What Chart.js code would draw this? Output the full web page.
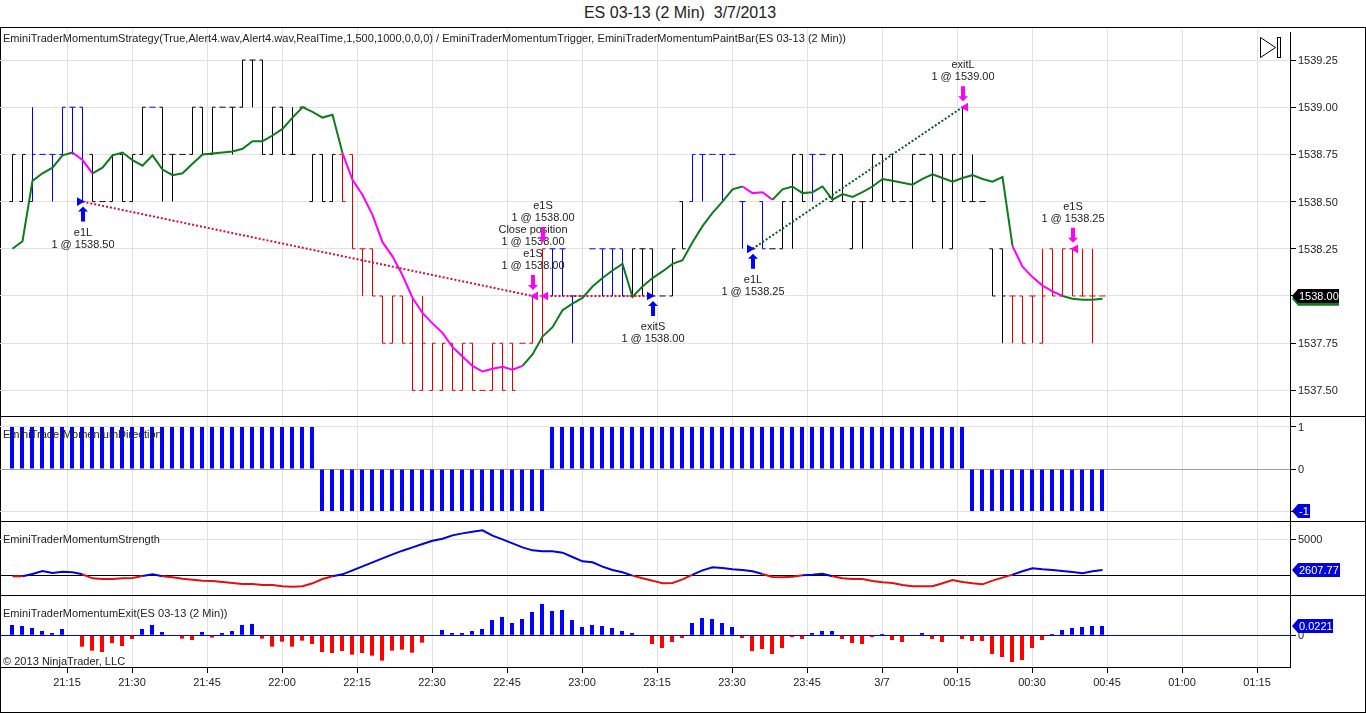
<!DOCTYPE html>
<html>
<head>
<meta charset="utf-8">
<title>ES 03-13 (2 Min)</title>
<script src="https://cdn.jsdelivr.net/npm/chart.js@4/dist/chart.umd.min.js"></script>
<style>
  html, body { margin:0; padding:0; background:#fff; overflow:hidden; }
  body { width:1366px; height:713px; position:relative; font:11px "Liberation Sans", Arial, sans-serif; color:#222; }
  canvas { position:absolute; left:0; }
  .frame { position:absolute; left:0; top:27px; width:1366px; height:686px; box-sizing:border-box; border:1px solid #000; }
  .rule { position:absolute; left:0; width:1366px; height:1px; background:#000; }
  .axisgap { position:absolute; left:1290px; top:28px; width:1px; height:4px; background:#fff; }
  .cap { position:absolute; left:3px; white-space:pre; line-height:13px; letter-spacing:.03px; }
  .title { position:absolute; left:0; width:1360px; top:4px; text-align:center; font-size:16px; line-height:18px; white-space:pre; }
</style>
</head>
<body>
<div class="frame"></div>
<canvas id="price" width="1366" height="388" style="top:28px"></canvas>
<canvas id="direction" width="1366" height="104" style="top:417px"></canvas>
<canvas id="strength" width="1366" height="73" style="top:522px"></canvas>
<canvas id="exit" width="1366" height="116" style="top:596px"></canvas>
<div class="axisgap"></div>
<div class="rule" style="top:416px"></div>
<div class="rule" style="top:521px"></div>
<div class="rule" style="top:595px"></div>
<div class="title">ES 03-13 (2 Min)  3/7/2013</div>
<div class="cap" style="top:32px">EminiTraderMomentumStrategy(True,Alert4.wav,Alert4.wav,RealTime,1,500,1000,0,0,0) / EminiTraderMomentumTrigger, EminiTraderMomentumPaintBar(ES 03-13 (2 Min))</div>
<div class="cap" style="top:428px">EminiTraderMomentumDirection</div>
<div class="cap" style="top:533px">EminiTraderMomentumStrength</div>
<div class="cap" style="top:607px">EminiTraderMomentumExit(ES 03-13 (2 Min))</div>
<div class="cap" style="top:655px">© 2013 NinjaTrader, LLC</div>
<script>
/* x axis is in bar numbers, one bar every 2 minutes */
const tickPositions = [5.5,12,19.5,27,34.5,42,49.5,57,64.5,72,79.5,87,94.5,102,109.5,117,124.5];
const tickLabels = ['21:15','21:30','21:45','22:00','22:15','22:30','22:45','23:00','23:15','23:30','23:45','3/7','00:15','00:30','00:45','01:00','01:15'];
const priceTicks = [1537.5,1537.75,1538,1538.25,1538.5,1538.75,1539,1539.25];

const barOpen = [
  1538.5,1538.5,1538.5,1538.75,1538.75,1538.75,1539,1539,1538.75,1538.5,
  1538.5,1538.75,1538.5,1538.75,1539,1539,1538.75,1538.75,1538.75,1539,
  1538.75,1539,1539,1539,1539.25,1539.25,1538.75,1539,1538.75,1539,
  1538.5,1538.75,1538.5,1538.75,1538.75,1538.25,1538.25,1538,1537.75,1538,
  1537.75,1537.5,1537.5,1537.5,1537.75,1537.5,1537.75,1537.5,1537.5,1537.75,
  1537.75,1537.75,1537.75,1538,1538.25,1538.25,1538,1538,1538.25,1538.25,
  1538.25,1538.25,1538,1538.25,1538.25,1538,1538,1538.5,1538.5,1538.75,
  1538.75,1538.75,1538.75,1538.5,1538.25,1538.5,1538.25,1538.25,1538.5,1538.75,
  1538.75,1538.75,1538.5,1538.75,1538.25,1538.5,1538.5,1538.75,1538.75,1538.5,
  1538.5,1538.75,1538.75,1538.75,1538.25,1538.75,1538.5,1538.5,1538.25,1538.25,
  1538,1538,1538,1537.75,1538.25,1538,1538.25,1538,1538,1538];
const barHigh = [
  1538.75,1538.75,1539,1538.75,1538.75,1539,1539,1539,1538.75,1538.5,
  1538.75,1538.75,1538.75,1539,1539,1539,1538.75,1538.75,1539,1539,
  1539,1539,1539,1539.25,1539.25,1539.25,1539,1539,1539,1539,
  1538.75,1538.75,1538.75,1538.75,1538.75,1538.25,1538.25,1538,1538,1538,
  1538,1538,1537.75,1537.75,1537.75,1537.75,1537.75,1537.5,1537.75,1537.75,
  1537.75,1537.75,1538,1538.25,1538.25,1538.25,1538,1538,1538.25,1538.25,
  1538.25,1538.25,1538.25,1538.25,1538.25,1538,1538.25,1538.5,1538.75,1538.75,
  1538.75,1538.75,1538.75,1538.5,1538.25,1538.5,1538.25,1538.5,1538.75,1538.75,
  1538.75,1538.75,1538.75,1538.75,1538.5,1538.5,1538.75,1538.75,1538.75,1538.5,
  1538.75,1538.75,1538.75,1538.75,1538.75,1539,1538.75,1538.5,1538.25,1538.25,
  1538,1538,1538,1538.25,1538.25,1538.25,1538.25,1538.25,1538.25,1538];
const barLow = [
  1538.5,1538.5,1538.5,1538.75,1538.5,1538.75,1538.75,1538.5,1538.5,1538.5,
  1538.5,1538.5,1538.5,1538.75,1539,1538.5,1538.5,1538.75,1538.75,1538.75,
  1538.75,1539,1538.75,1539,1539,1538.75,1538.75,1538.75,1538.75,1539,
  1538.5,1538.5,1538.5,1538.5,1538.25,1538,1538,1537.75,1537.75,1537.75,
  1537.5,1537.5,1537.5,1537.5,1537.5,1537.5,1537.5,1537.5,1537.5,1537.5,
  1537.5,1537.75,1537.75,1537.75,1538,1538,1537.75,1538,1538.25,1538,
  1538,1538,1538,1538,1538,1538,1538,1538.25,1538.5,1538.5,
  1538.75,1538.5,1538.75,1538.25,1538.25,1538.25,1538.25,1538.25,1538.25,1538.5,
  1538.5,1538.75,1538.5,1538.5,1538.25,1538.25,1538.5,1538.5,1538.5,1538.5,
  1538.25,1538.75,1538.5,1538.25,1538.25,1538.5,1538.5,1538.5,1538,1537.75,
  1537.75,1537.75,1537.75,1537.75,1538,1538,1538,1538,1537.75,1538];
const barClose = [
  1538.75,1538.75,1538.75,1538.75,1538.75,1539,1539,1538.5,1538.5,1538.5,
  1538.75,1538.5,1538.75,1539,1539,1538.75,1538.75,1538.75,1539,1538.75,
  1539,1539,1539,1539.25,1539.25,1538.75,1539,1538.75,1538.75,1539,
  1538.75,1538.5,1538.75,1538.5,1538.25,1538.25,1538,1537.75,1538,1537.75,
  1537.5,1537.75,1537.75,1537.75,1537.5,1537.75,1537.5,1537.5,1537.75,1537.5,
  1537.5,1537.75,1538,1538.25,1538.25,1538.25,1538,1538,1538.25,1538.25,
  1538.25,1538,1538.25,1538.25,1538,1538,1538.25,1538.25,1538.75,1538.75,
  1538.75,1538.75,1538.75,1538.5,1538.25,1538.25,1538.25,1538.5,1538.75,1538.5,
  1538.75,1538.75,1538.75,1538.5,1538.5,1538.5,1538.75,1538.5,1538.5,1538.5,
  1538.75,1538.75,1538.5,1538.5,1538.75,1538.5,1538.5,1538.5,1538,1538,
  1538,1537.75,1538,1538,1538,1538.25,1538,1538,1538,1538];
/* 0 plain, 1 up paint, -1 down paint */
const barPaint = [
  0,0,1,1,1,1,1,1,0,0, 0,0,0,0,1,0,0,0,0,0, 0,0,0,0,0,0,0,0,0,0,
  0,0,0,-1,-1,-1,-1,-1,-1,-1, -1,-1,-1,-1,-1,-1,-1,-1,-1,-1, -1,-1,-1,-1,1,1,1,1,1,1,
  1,1,0,0,0,0,0,0,1,1, 1,1,1,1,1,1,0,0,0,0, 1,1,0,0,0,0,0,0,0,0,
  0,0,0,0,0,0,0,0,0,0, -1,-1,-1,-1,-1,-1,-1,-1,-1,-1];

const trendValues = [
  1538.25,1538.29,1538.61,1538.65,1538.68,1538.745,1538.76,1538.72,1538.65,1538.68,
  1538.745,1538.76,1538.72,1538.69,1538.745,1538.67,1538.64,1538.65,1538.7,1538.75,
  1538.755,1538.76,1538.765,1538.78,1538.82,1538.82,1538.85,1538.885,1538.945,1539,
  1538.975,1538.945,1538.96,1538.757,1538.615,1538.535,1538.43,1538.285,1538.21,1538.11,
  1537.99,1537.91,1537.855,1537.805,1537.73,1537.68,1537.63,1537.6,1537.615,1537.625,
  1537.61,1537.63,1537.69,1537.785,1537.835,1537.925,1537.96,1537.99,1538.05,1538.095,
  1538.135,1538.17,1537.995,1538.05,1538.095,1538.13,1538.17,1538.19,1538.285,1538.37,
  1538.44,1538.5,1538.565,1538.58,1538.545,1538.55,1538.51,1538.565,1538.58,1538.545,
  1538.55,1538.58,1538.51,1538.54,1538.525,1538.55,1538.58,1538.62,1538.61,1538.6,
  1538.59,1538.62,1538.645,1538.625,1538.605,1538.625,1538.64,1538.62,1538.605,1538.63,
  1538.265,1538.155,1538.1,1538.055,1538.025,1538,1537.985,1537.98,1537.98,1537.985];
const trendFallRanges = [[6,8],[33,51],[73,76],[100,105]];

const tradeBars = [7,52,52,53,64,74,95,106];
const tradePrices = [1538.5,1538,1538,1538,1538,1538.25,1539,1538.25];
const tradeNames = ['e1L','Close position','e1S','e1S','exitS','e1L','exitL','e1S'];
const tradeBuys = [true,false,false,false,true,true,false,false];
const closedLineBars = [[7,52],[53,64],[74,95]];
const closedLinePrices = [[1538.5,1538],[1538,1538],[1538.25,1539]];

const directionValues = [
  1,1,1,1,1,1,1,1,1,1, 1,1,1,1,1,1,1,1,1,1, 1,1,1,1,1,1,1,1,1,1, 1,
  -1,-1,-1,-1,-1,-1,-1,-1,-1, -1,-1,-1,-1,-1,-1,-1,-1,-1,-1, -1,-1,-1,-1,
  1,1,1,1,1,1, 1,1,1,1,1,1,1,1,1,1, 1,1,1,1,1,1,1,1,1,1, 1,1,1,1,1,1,1,1,1,1, 1,1,1,1,1,1,
  -1,-1,-1,-1, -1,-1,-1,-1,-1,-1,-1,-1,-1,-1];
const directionTicks = [-1,0,1];

const strengthValues = [
  2112,2112,2294,2528,2372,2476,2424,2268,1956,1904,
  1904,1956,1982,2138,2268,2112,2034,1930,1852,1774,
  1748,1670,1592,1514,1514,1436,1436,1332,1306,1332,
  1566,1904,2112,2268,2580,2892,3204,3516,3828,4114,
  4374,4634,4894,5050,5310,5466,5596,5700,5284,4998,
  4686,4374,4140,4062,4062,3958,3620,3282,3204,2866,
  2606,2424,2164,1956,1774,1566,1592,1878,2242,2580,
  2814,2762,2658,2606,2502,2294,2060,2034,2086,2190,
  2242,2320,2112,1956,1904,1904,1748,1644,1592,1436,
  1332,1332,1332,1566,1826,1670,1566,1488,1774,2008,
  2242,2502,2736,2658,2606,2528,2450,2346,2502,2607.77];
const strengthLevel = 2190;
const strengthTicks = [2190,5000];

const exitValues = [
  .0245,.0221,.0174,.0103,.0055,.015,0,-.0269,-.0363,-.0395,
  -.0182,-.0253,-.0087,.015,.0245,.0079,0,-.0079,-.0111,.0079,
  -.0055,.0055,.0103,.0245,.0269,-.0079,-.0269,-.015,-.0269,-.0126,
  -.0205,-.0395,-.0419,-.0371,-.0458,-.0419,-.0482,-.06,-.0363,-.034,
  -.0411,-.0174,0,.0126,.0055,.0055,.0103,.015,.0363,.0435,
  .0292,.0387,.0553,.0743,.0577,.06,.0363,.0198,.0245,.0221,
  .0174,.0103,.0055,0,-.0205,-.03,-.0158,-.0063,.0292,.0411,
  .0387,.0292,.0198,-.0063,-.0371,-.0324,-.0442,-.03,-.004,-.0087,
  .0055,.0103,.0103,-.0087,-.0182,-.0205,-.004,.0032,-.0111,-.0158,
  0,.0055,-.0087,-.0158,0,-.0087,-.0134,-.0134,-.0442,-.0514,
  -.0632,-.0585,-.03,-.0111,.0032,.0126,.0174,.0198,.0221,.0221];
const exitTicks = [0];

const gridColor = '#e2e2e2';
const paintColors = { '0':'#000000', '1':'#0000d8', '-1':'#dd0000' };
const greenLine = '#0f7a1e', magenta = '#ff00ff', blue = '#0000ff', red = '#ff0000';
const lastBar = barClose.length - 1;

Chart.defaults.font.family = '"Liberation Sans", Arial, sans-serif';
Chart.defaults.font.size = 11;
Chart.defaults.color = '#222';
Chart.defaults.animation = false;
Chart.defaults.events = [];

const xScale = (showLabels, shift) => ({
  type:'linear', min:-1.25 + shift, max:127.75 + shift, offset:false,
  grid:{ color:gridColor, offset:false, drawTicks:showLabels, tickLength:6, tickColor:'#000' },
  border:{ display:showLabels, color:'#000' },
  ticks:{ display:showLabels, autoSkip:false, maxRotation:0, padding:3, callback:(v, i) => tickLabels[i] },
  afterBuildTicks: s => { s.ticks = tickPositions.map(v => ({ value:v })); },
  afterFit: s => { s.height = showLabels ? 45 : 0; s.paddingLeft = 0; s.paddingRight = 0; }
});

const yScale = (min, max, ticks, label, lineColor) => ({
  position:'right', min, max,
  grid:{ color:c => lineColor(c.tick.value), tickLength:6, tickColor:c => label(c.tick.value) === '' ? 'transparent' : '#000' },
  border:{ color:'#000' },
  ticks:{ padding:2, labelOffset:1, autoSkip:false, callback:v => label(v) },
  afterBuildTicks: s => { s.ticks = ticks.map(v => ({ value:v })); },
  // no room kept for half a label, the plot has to fill its canvas
  afterFit: s => { s.width = 76; s.paddingTop = 0; s.paddingBottom = 0; }
});
const layout = { padding:0, autoPadding:false };

// little pentagon on the axis showing the last value
const drawFlag = (chart, axis, value, color, text, width) => {
  const c = chart.ctx, y = chart.scales[axis].getPixelForValue(value), x = chart.chartArea.right + 2;
  c.save();
  c.beginPath();
  c.moveTo(x, y);
  c.lineTo(x + 6, y - 7); c.lineTo(x + width, y - 7); c.lineTo(x + width, y + 7); c.lineTo(x + 6, y + 7);
  c.closePath();
  c.fillStyle = color; c.fill();
  c.fillStyle = '#fff';
  c.font = '11px "Liberation Sans", Arial, sans-serif';
  c.textBaseline = 'middle'; c.textAlign = 'left';
  if (text) c.fillText(text, x + 7, y + 0.5);
  c.restore();
};
const flagPlugin = (axis, flags) => ({
  id:'flags',
  afterDraw(chart) { flags().forEach(f => drawFlag(chart, axis, f.value, f.color, f.text, f.width)); }
});

const drawArrow = (c, x, top, height, up, color) => {
  const tip = up ? top : top + height, dir = up ? 1 : -1, end = up ? top + height : top;
  c.fillStyle = color;
  c.beginPath();
  c.moveTo(x, tip);
  c.lineTo(x + 5, tip + dir * 5); c.lineTo(x + 2, tip + dir * 5); c.lineTo(x + 2, end);
  c.lineTo(x - 2, end); c.lineTo(x - 2, tip + dir * 5); c.lineTo(x - 5, tip + dir * 5);
  c.closePath(); c.fill();
};

// arrow and text of each order, the stacked ones are lifted
const labelLift = [0,24,0,48,0,0,0,0];
const arrowLift = [0,0,0,48,0,0,0,0];
const tradePlugin = {
  id:'trades',
  afterDatasetsDraw(chart) {
    const c = chart.ctx, xs = chart.scales.x, ys = chart.scales.y;
    c.save();
    c.font = '11px "Liberation Sans", Arial, sans-serif';
    c.textAlign = 'center'; c.textBaseline = 'middle';
    tradeBars.forEach((bar, i) => {
      const x = Math.round(xs.getPixelForValue(bar)), y = ys.getPixelForValue(tradePrices[i]);
      const text = '1 @ ' + tradePrices[i].toFixed(2);
      if (tradeBuys[i]) {
        drawArrow(c, x, y + 5, 15, true, blue);
        c.fillStyle = '#222';
        c.fillText(tradeNames[i], x, y + 31);
        c.fillText(text, x, y + 43);
      } else {
        if (tradeNames[i] !== 'Close position') drawArrow(c, x, y - 21 - arrowLift[i], 15, false, magenta);
        c.fillStyle = '#222';
        c.fillText(tradeNames[i], x, y - 42 - labelLift[i]);
        c.fillText(text, x, y - 30 - labelLift[i]);
      }
    });
    // chart trader icon, top right
    c.strokeStyle = '#000'; c.lineWidth = 1;
    c.strokeRect(1277.5, 9.5, 3, 20);
    c.beginPath(); c.moveTo(1260.5, 9.5); c.lineTo(1275.5, 19.5); c.lineTo(1260.5, 29.5); c.closePath(); c.stroke();
    c.restore();
  }
};

const points = (ys) => ys.map((y, i) => ({ x:i, y }));
const tickDataset = (values, rotation) => ({
  type:'line', data:points(values), showLine:false, order:3,
  pointStyle:'dash', pointRadius:3, pointRotation:rotation, pointBorderWidth:1,
  pointBorderColor:c => paintColors[barPaint[c.dataIndex]], pointBackgroundColor:'transparent'
});
const tradeMarks = (buy) => ({
  type:'line', showLine:false, order:0, pointStyle:'triangle', pointRadius:5,
  pointRotation:buy ? 90 : -90, pointBorderWidth:0,
  pointBackgroundColor:buy ? blue : magenta,
  data:tradeBars.map((b, i) => ({ x:b + (buy ? -0.3 : 0.3), y:tradeBuys[i] === buy ? tradePrices[i] : null }))
});
const closedLine = (i, color) => ({
  type:'line', order:1, borderColor:color, borderWidth:2, borderDash:[2,2], pointRadius:0, tension:0,
  data:closedLineBars[i].map((b, k) => ({ x:b, y:closedLinePrices[i][k] }))
});

new Chart(document.getElementById('price'), {
  type:'bar',
  plugins:[tradePlugin, flagPlugin('y', () => [
    { value:trendValues[lastBar], color:greenLine, text:'', width:47 },
    { value:barClose[lastBar], color:'#000', text:barClose[lastBar].toFixed(2), width:47 }
  ])],
  data:{ datasets:[
    { type:'bar', order:4, barThickness:1, inflateAmount:0, backgroundColor:c => paintColors[barPaint[c.dataIndex]],
      data:barHigh.map((h, i) => ({ x:i, y:[barLow[i], h] })) },
    tickDataset(barOpen, 180),
    tickDataset(barClose, 0),
    closedLine(0, '#c8143c'),
    closedLine(1, '#c8143c'),
    closedLine(2, '#0a5a1e'),
    { type:'line', order:2, data:points(trendValues), borderWidth:2, pointRadius:0, tension:0, borderColor:greenLine,
      segment:{ borderColor:c => trendFallRanges.some(r => c.p0DataIndex >= r[0] && c.p0DataIndex < r[1]) ? magenta : greenLine } },
    tradeMarks(true),
    tradeMarks(false)
  ] },
  options:{
    responsive:false, layout,
    plugins:{ legend:{ display:false }, tooltip:{ enabled:false } },
    scales:{
      x:xScale(false, 0),
      y:yScale(1537.3644, 1539.4195, priceTicks, v => Number(v).toFixed(2), () => gridColor)
    }
  }
});

new Chart(document.getElementById('direction'), {
  type:'bar',
  plugins:[flagPlugin('y', () => [{ value:directionValues[lastBar], color:'#0000d8', text:String(directionValues[lastBar]), width:18 }])],
  data:{ datasets:[{ data:points(directionValues), barThickness:4, inflateAmount:0, backgroundColor:blue }] },
  options:{
    responsive:false, layout,
    plugins:{ legend:{ display:false }, tooltip:{ enabled:false } },
    scales:{
      x:xScale(false, 0.05),
      y:yScale(-1.238, 1.238, directionTicks, v => String(v), v => v === 0 ? '#a0a0a0' : gridColor)
    }
  }
});

new Chart(document.getElementById('strength'), {
  type:'line',
  plugins:[flagPlugin('y', () => [{ value:strengthValues[lastBar], color:'#0000d8', text:strengthValues[lastBar].toFixed(2), width:48 }])],
  data:{ datasets:[{
    data:points(strengthValues), borderWidth:2, pointRadius:0, tension:0, borderColor:'#0000d8',
    segment:{ borderColor:c => c.p0.parsed.y + c.p1.parsed.y >= strengthLevel * 2 ? '#0000d8' : '#e01010' }
  }] },
  options:{
    responsive:false, layout,
    plugins:{ legend:{ display:false }, tooltip:{ enabled:false } },
    scales:{
      x:xScale(false, 0),
      y:yScale(654, 6353, strengthTicks, v => v === strengthLevel ? '' : String(v), v => v === strengthLevel ? '#000' : gridColor)
    }
  }
});

new Chart(document.getElementById('exit'), {
  type:'bar',
  plugins:[flagPlugin('y', () => [{ value:exitValues[lastBar], color:'#0000d8', text:exitValues[lastBar].toFixed(4), width:41 }])],
  data:{ datasets:[{ data:points(exitValues), barThickness:4, inflateAmount:0, backgroundColor:c => exitValues[c.dataIndex] >= 0 ? blue : red }] },
  options:{
    responsive:false, layout,
    plugins:{ legend:{ display:false }, tooltip:{ enabled:false } },
    scales:{
      x:xScale(true, 0.05),
      y:yScale(-.0751, .0931, exitTicks, v => String(v), () => '#0000d8')
    }
  }
});
</script>
</body>
</html>
